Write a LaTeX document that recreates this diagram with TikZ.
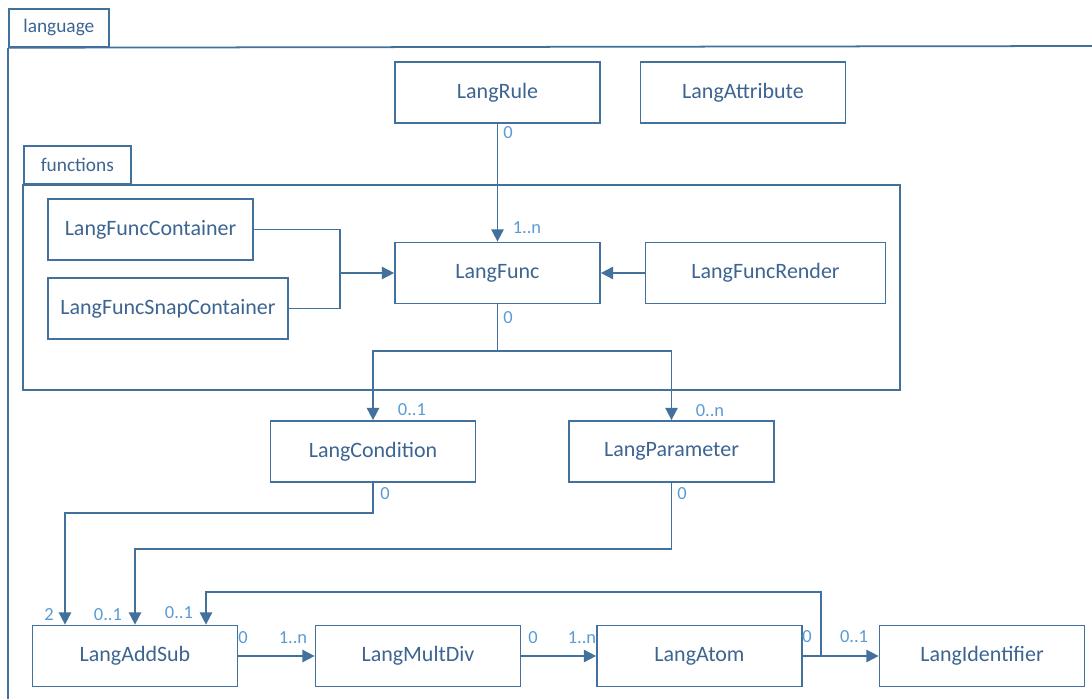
\documentclass[tikz,border=0pt]{standalone}
\usepackage{fontspec}
\setmainfont{Carlito}
\usepackage{xcolor}
\usepackage{tikz}
\usetikzlibrary{
    arrows.meta,      % Triangle tips
    positioning,
    calc
}
\definecolor{umlblue}{HTML}{41719C}
\definecolor{umltext}{HTML}{3D6592}
\definecolor{multblue}{HTML}{5B9BD5}

\begin{document}
\begin{tikzpicture}[
    x=0.02cm, y=-0.02cm,
    cls/.style={draw=umlblue, line width=1pt, fill=white, minimum width=4.1cm, minimum height=1.22cm, inner sep=0pt, text=umltext, font=\fontsize{12.5}{15}\selectfont},
    widecls/.style={cls, minimum width=4.8cm},
    pkgtab/.style={draw=umlblue, line width=1pt, anchor=north west, minimum height=0.76cm, inner sep=0pt, text=umltext, font=\fontsize{11}{13}\selectfont},
    link/.style={umlblue, line width=1pt},
    arrow/.style={link, -{Triangle[length=7pt, width=7pt]}},
    mult/.style={text=multblue, inner sep=0pt, font=\fontsize{10.5}{12}\selectfont},
  ]
    \fill[white] (0,0) rectangle (1092,699);
    \useasboundingbox (0,0) rectangle (1092,699);

    % Packages
    \node[pkgtab, minimum width=2cm] (langtab) at (8,8) {language};
    \draw[link] (langtab.south west) -- (8,699);
    \draw[link] (langtab.south west) -- (1092,46);
    \node[pkgtab, minimum width=2.14cm] (functab) at (23,145) {functions};
    \draw[link] (functab.south west) rectangle (900,390);

    % Classes
    \node[cls] (rule) at (497.5,92.5) {LangRule};
    \node[cls] (attr) at (743,92.5) {LangAttribute};
    \node[cls] (fcont) at (150.5,229.5) {LangFuncContainer};
    \node[widecls] (fsnap) at (168,308.5) {LangFuncSnapContainer};
    \node[cls] (func) at (497.5,273) {LangFunc};
    \node[widecls] (render) at (765.5,273) {LangFuncRender};
    \node[cls] (cond) at (373,451.5) {LangCondition};
    \node[cls] (param) at (671.5,451.5) {LangParameter};
    \node[cls] (addsub) at (135,656) {LangAddSub};
    \node[cls] (multdiv) at (418,656) {LangMultDiv};
    \node[cls] (atom) at (699.5,656) {LangAtom};
    \node[cls] (ident) at (982,656) {LangIdentifier};

    % Connectors
    \coordinate (merge) at (340,273);
    \coordinate (split) at (497.5,351);
    \draw[arrow] (rule) -- (func);
    \draw[link] (fcont.east) -| (merge);
    \draw[link] (fsnap.east) -| (merge);
    \draw[arrow] (merge) -- (func);
    \draw[arrow] (render) -- (func);
    \draw[link] (func) -- (split);
    \draw[arrow] (split) -| (cond);
    \draw[arrow] (split) -| (param);
    \draw[arrow] (cond.south) -- ++(0,30) -| ([xshift=-1.4cm]addsub.north);
    \draw[arrow] (param.south) -- ++(0,66) -| (addsub.north);
    \draw[arrow] (atom.east) -- ++(18,0) -- ++(0,-64) -| ([xshift=1.42cm]addsub.north);
    \draw[arrow] (addsub) -- (multdiv);
    \draw[arrow] (multdiv) -- (atom);
    \draw[arrow] (atom) -- (ident);

    % Multiplicities
    \node[mult] (m1) at (508,133) {0};
    \node[mult] (m2) at (527,228) {1..n};
    \node[mult] (m3) at (508,318) {0};
    \node[mult] (m4) at (412,410) {0..1};
    \node[mult] (m5) at (710,411) {0..n};
    \node[mult] (m6) at (385,494) {0};
    \node[mult] (m7) at (682,494) {0};
    \node[mult] (m8) at (49,615) {2};
    \node[mult] (m9) at (108,615) {0..1};
    \node[mult] (m10) at (179,613) {0..1};
    \node[mult] (m11) at (243,638) {0};
    \node[mult] (m12) at (293,638) {1..n};
    \node[mult] (m13) at (533,638) {0};
    \node[mult] (m14) at (582,638) {1..n};
    \node[mult] (m15) at (807,637) {0};
    \node[mult] (m16) at (854,637) {0..1};
  \end{tikzpicture}
\end{document}
